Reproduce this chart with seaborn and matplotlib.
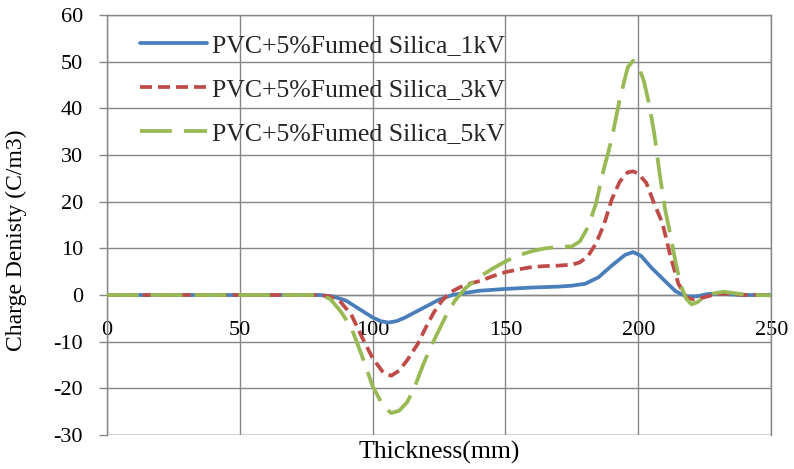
import numpy as np
import pandas as pd
import matplotlib
matplotlib.use("Agg")
import matplotlib.pyplot as plt
import seaborn as sns

# Thickness positions (mm) and charge density (C/m3) for each poling voltage
x_1kv = [0, 10, 20, 30, 40, 50, 60, 70, 80, 85, 90, 95, 100, 103, 106, 109, 112,
         115, 120, 125, 130, 140, 150, 160, 170, 175, 180, 185, 190, 195, 198,
         201, 205, 210, 214, 218, 222, 226, 230, 235, 240, 250]
y_1kv = [0, 0, 0, 0, 0, 0, 0, 0, 0, -0.3, -1.2, -3.0, -4.8, -5.6, -5.9, -5.6,
         -4.9, -4.0, -2.5, -1.0, 0.0, 0.9, 1.3, 1.6, 1.8, 2.0, 2.4, 3.8, 6.3,
         8.6, 9.2, 8.4, 5.8, 3.0, 0.8, -0.3, -0.3, 0.2, 0.3, 0.1, 0.0, 0.0]

x_3kv = [0, 10, 20, 30, 40, 50, 60, 70, 80, 84, 88, 92, 96, 100, 104, 107, 110,
         113, 117, 120, 123, 126, 129, 133, 137, 141, 145, 150, 155, 160, 165,
         170, 175, 178, 181, 184, 187, 190, 193, 196, 198, 200, 203, 206, 209,
         212, 215, 218, 221, 224, 228, 232, 236, 240, 250]
y_3kv = [0, 0, 0, 0, 0, 0, 0, 0, 0, -0.3, -1.5, -4.2, -9.0, -13.5, -16.6, -17.3,
         -16.2, -14.0, -10.5, -7.0, -3.8, -1.3, 0.5, 1.7, 2.5, 3.1, 4.0, 4.9, 5.5,
         6.0, 6.2, 6.3, 6.5, 7.0, 8.3, 11.0, 15.0, 20.5, 24.3, 26.3, 26.5, 26.0,
         24.0, 19.5, 15.5, 8.5, 2.5, -0.5, -1.0, -0.6, 0.0, 0.3, 0.2, 0.0, 0.0]

x_5kv = [0, 10, 20, 30, 40, 50, 60, 70, 80, 84, 88, 92, 96, 100, 104, 107, 110,
         113, 116, 119, 122, 125, 128, 131, 135, 140, 145, 150, 155, 160, 165,
         170, 175, 178, 181, 184, 187, 190, 193, 196, 198, 200, 202, 204, 206,
         208, 210, 212, 214, 216, 218, 220, 222, 225, 228, 232, 236, 240, 245, 250]
y_5kv = [0, 0, 0, 0, 0, 0, 0, 0, 0, -0.8, -3.5, -7.0, -13.0, -19.5, -23.8, -25.3,
         -24.8, -23.0, -19.5, -15.0, -11.0, -7.5, -4.0, -1.2, 1.5, 3.8, 5.6, 7.2,
         8.5, 9.4, 10.0, 10.3, 10.4, 11.5, 14.5, 19.5, 27.0, 33.5, 42.0, 48.8,
         50.2, 49.0, 46.0, 41.0, 34.5, 26.0, 18.5, 13.0, 7.0, 2.0, -0.8, -2.0,
         -1.6, -0.4, 0.3, 0.7, 0.4, 0.1, 0.0, -0.1]

series_labels = ["PVC+5%Fumed Silica_1kV",
                 "PVC+5%Fumed Silica_3kV",
                 "PVC+5%Fumed Silica_5kV"]
series_colors = ["#4A7EBB", "#BE4B48", "#98B954"]

x_ticks = [0, 50, 100, 150, 200, 250]
y_ticks = [-30, -20, -10, 0, 10, 20, 30, 40, 50, 60]

sns.set_theme(style="white")
plt.rcParams["font.family"] = ["Liberation Serif", "DejaVu Serif"]
plt.rcParams["axes.unicode_minus"] = False

fig = plt.figure(figsize=(7.94, 4.69), dpi=100)
ax = fig.add_axes([0.1344, 0.0725, 0.8370, 0.8955])

frames = []
for xs, ys, lab in zip([x_1kv, x_3kv, x_5kv], [y_1kv, y_3kv, y_5kv], series_labels):
    frames.append(pd.DataFrame({"x": xs, "y": ys, "series": lab}))
df = pd.concat(frames, ignore_index=True)

line_dashes = {series_labels[0]: "", series_labels[1]: (3.2, 1.6),
               series_labels[2]: (8.5, 3.2)}
sns.lineplot(data=df, x="x", y="y", hue="series", style="series",
             palette=dict(zip(series_labels, series_colors)),
             dashes=line_dashes, linewidth=2.7, sort=False,
             estimator=None, ax=ax, zorder=3)

grid_c = "#868686"
ax.set_xlim(0, 250)
ax.set_ylim(-30, 60)
ax.set_xticks(x_ticks)
ax.set_yticks(y_ticks)
ax.grid(True, color=grid_c, linewidth=1.0)
ax.set_axisbelow(True)

for side in ["left", "right", "top", "bottom"]:
    ax.spines[side].set_color(grid_c)
    ax.spines[side].set_linewidth(1.0)
ax.spines["bottom"].set_position(("data", 0))
ax.axhline(-30, color=grid_c, linewidth=1.0, zorder=1)

ax.tick_params(axis="y", which="major", length=6, width=1.0, color=grid_c,
               pad=11, labelsize=16, labelcolor="black", left=True)
ax.tick_params(axis="x", which="major", length=0, pad=19, labelsize=16,
               labelcolor="black", bottom=True)

ax.set_xlabel("")
fig.text(439 / 794, 1 - 452 / 469, "Thickness(mm)", fontsize=18.5,
         color="black", ha="center", va="center")
ax.set_ylabel("Charge Denisty (C/m3)", fontsize=17, color="black")
ax.yaxis.set_label_coords(-0.12, 0.464)

handles, labels = ax.get_legend_handles_labels()
ax.legend(handles, labels, loc="upper left", bbox_to_anchor=(0.035, 0.98),
          frameon=False, fontsize=18.5, handlelength=2.6, handletextpad=0.2,
          labelspacing=0.82, borderaxespad=0.0)

fig.savefig("out.png", dpi=100, facecolor="white")
